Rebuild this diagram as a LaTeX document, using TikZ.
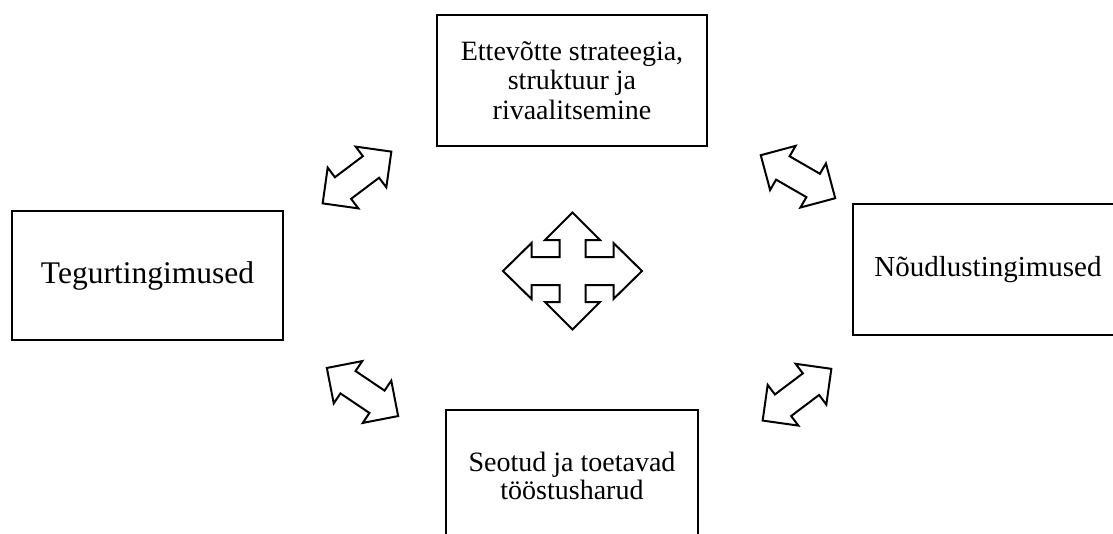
\documentclass[tikz,border=0pt]{standalone}
\usepackage{fontspec}
\setmainfont{Liberation Serif}
\usetikzlibrary{shapes.arrows}
\tikzset{
  box/.style={draw, line width=2.6pt, align=center, inner sep=0pt},
  dblarrow/.style={double arrow, draw, line width=2pt, minimum height=86pt,
    inner sep=0pt, inner ysep=12.5pt, double arrow head extend=12pt},
}
\begin{document}
\begin{tikzpicture}[x=1pt,y=-1pt]
	\useasboundingbox (0,0) rectangle (1113,533);
	\clip (0,0) rectangle (1113,533);

	\node[box, minimum width=270pt, minimum height=131pt, font=\fontsize{28}{29.5}\selectfont] (strateegia) at (572,80.5) {Ettevõtte strateegia,\\struktuur ja\\rivaalitsemine};
	\node[box, minimum width=271pt, minimum height=129pt, font=\fontsize{31.5}{36}\selectfont] (tegur) at (147.5,275.5) {Tegurtingimused};
	\node[box, minimum width=270pt, minimum height=131pt, font=\fontsize{29}{34}\selectfont] (noudlus) at (988,269.5) {Nõudlustingimused};
	\node[box, minimum width=252pt, minimum height=131pt, font=\fontsize{28}{28}\selectfont] (seotud) at (572,475.5) {Seotud ja toetavad\\tööstusharud};

	\node[dblarrow, rotate=37] (nw) at (357,177.5) {};
	\node[dblarrow, rotate=-30] (ne) at (798,176.7) {};
	\node[dblarrow, rotate=-34] (sw) at (362.5,392) {};
	\node[dblarrow, rotate=37] (se) at (797,394.7) {};

	\draw[line width=2pt, shift={(572.5,271)}] (0,-58.5) -- (27.5,-31) -- (13,-31) -- (13,-14) -- (41,-14) -- (41,-28) -- (69.5,0) -- (41,28) -- (41,14) -- (13,14) -- (13,31) -- (27.5,31) -- (0,58.5) -- (-27.5,31) -- (-13,31) -- (-13,14) -- (-41,14) -- (-41,28) -- (-69.5,0) -- (-41,-28) -- (-41,-14) -- (-13,-14) -- (-13,-31) -- (-27.5,-31) -- cycle;
\end{tikzpicture}
\end{document}
